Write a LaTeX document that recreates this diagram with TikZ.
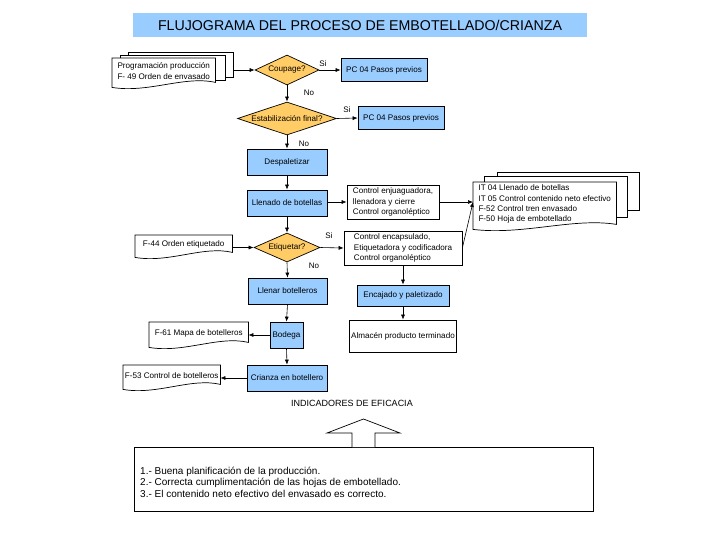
\documentclass[tikz,border=0pt]{standalone}
\usepackage{fontspec}
\setmainfont{Liberation Sans}
\usetikzlibrary{shapes.geometric,arrows.meta,calc,backgrounds}
\definecolor{boxblue}{RGB}{153,204,255}
\definecolor{dorange}{RGB}{255,204,102}
\definecolor{titleblue}{RGB}{153,204,255}
\tikzset{
 every node/.style={font=\fontsize{8.1}{10.3}\selectfont, inner sep=0pt},
 bluebox/.style={draw, fill=boxblue, line width=0.7pt, align=center},
 whitebox/.style={draw, fill=white, line width=0.7pt, align=left},
 decision/.style={diamond, draw, fill=dorange, line width=0.7pt},
 docbody/.style={align=left},
 arr/.style={-{Latex[length=5pt,width=4pt]}, line width=0.6pt},
 lbl/.style={font=\fontsize{8}{9}\selectfont},
 docline/.style={draw, fill=white, line width=0.7pt}
}
\newcommand\docpath[1]{%
  \path[docline] (#1.north west) -- (#1.north east) -- ($(#1.south east)+(0,-2)$)
   .. controls ($(#1.south east)!0.3!(#1.south west)+(0,-9)$) and ($(#1.south east)!0.65!(#1.south west)+(0,9)$) .. ($(#1.south west)+(0,3)$) -- cycle;}
\begin{document}
\begin{tikzpicture}[x=1pt,y=-1pt]
\useasboundingbox (0,0) rectangle (728,546);
% title
\node[fill=titleblue, minimum width=454, minimum height=24, font=\fontsize{14.2}{17}\selectfont] (title) at (360,25) {FLUJOGRAMA DEL PROCESO DE EMBOTELLADO/CRIANZA};
% document stacks
\node[minimum width=105, minimum height=25, anchor=north west] (progB) at (128,52) {};
\node[minimum width=105, minimum height=25, anchor=north west] (progM) at (120,55) {};
\node[docbody, anchor=north west, minimum width=103, minimum height=26] (prog) at (112,58) {Programación producción\\F- 49 Orden de envasado};
\node[minimum width=142, minimum height=38, anchor=north west] (itB) at (497,172) {};
\node[minimum width=143, minimum height=41, anchor=north west] (itM) at (484,176) {};
\node[docbody, anchor=north west, minimum width=143, minimum height=44] (itF) at (473,182) {IT 04 Llenado de botellas\\IT 05 Control contenido neto efectivo\\F-52 Control tren envasado\\F-50 Hoja de embotellado};
\node[docbody, align=center, anchor=north west, minimum width=97, minimum height=19] (f44) at (135,235) {F-44 Orden etiquetado};
\node[docbody, align=center, anchor=north west, minimum width=99, minimum height=22] (f61) at (149,322) {F-61 Mapa de botelleros};
\node[docbody, align=center, anchor=north west, minimum width=97, minimum height=21] (f53) at (123,365) {F-53 Control de botelleros};
% main column
\node[decision, aspect=2.2, minimum width=64, minimum height=30] (coup) at (287,70) {Coupage?};
\node[bluebox, minimum width=86, minimum height=23] (pc1) at (384,70) {PC 04 Pasos previos};
\node[decision, aspect=3, minimum width=99, minimum height=33] (estab) at (287,118.5) {Estabilización final?};
\node[bluebox, minimum width=86, minimum height=23] (pc2) at (401,118) {PC 04 Pasos previos};
\node[bluebox, minimum width=80, minimum height=26] (desp) at (287,162) {Despaletizar};
\node[bluebox, minimum width=80, minimum height=26] (llen) at (287,203) {Llenado de botellas};
\node[whitebox, minimum width=92, minimum height=34] (c1) at (393,202) {Control enjuaguadora,\\llenadora y cierre\\Control organoléptico};
\node[decision, aspect=2.3, minimum width=66, minimum height=29] (etiq) at (287,247.5) {Etiquetar?};
\node[whitebox, minimum width=118, minimum height=34] (enc) at (403,248) {Control encapsulado,\\Etiquetadora y codificadora\\Control organoléptico};
\node[bluebox, minimum width=79, minimum height=26] (llb) at (287.5,291) {Llenar botelleros};
\node[bluebox, minimum width=92, minimum height=21] (encaj) at (403,295.5) {Encajado y paletizado};
\node[whitebox, align=center, minimum width=107, minimum height=32] (alm) at (403,336) {Almacén producto terminado};
\node[bluebox, minimum width=33, minimum height=26] (bod) at (286.5,335) {Bodega};
\node[bluebox, minimum width=80, minimum height=26] (cri) at (287,378) {Crianza en botellero};
% labels
\node[lbl] (si1) at (323,64) {Si};
\node[lbl] (no1) at (309,93) {No};
\node[lbl] (si2) at (347,110) {Si};
\node[lbl] (no2) at (304,144) {No};
\node[lbl] (si3) at (329,236) {Si};
\node[lbl] (no3) at (314,266) {No};
% connectors
\draw[arr] (progB.east |- coup.west) -- (coup.west);
\draw[arr] (coup.east) -- (pc1.west);
\draw[arr] (coup.south) -- (estab.north);
\draw[arr] (estab.east) -- (pc2.west);
\draw[arr] (estab.south) -- (desp.north);
\draw[arr] (desp.south) -- (llen.north);
\draw[arr] (llen.east) -- (c1.west -| llen.east) -- (c1.west);
\draw[arr] (c1.east) -- (c1.east -| itF.west);
\draw[arr] (enc.east) -- (c1.east -| itF.west);
\draw[arr] (llen.south) -- (etiq.north);
\draw[arr] (f44.east |- etiq.west) -- (etiq.west);
\draw[arr] (etiq.east) -- (enc.west);
\draw[arr] (etiq.south) -- (llb.north);
\draw[arr] (enc.south) -- (encaj.north);
\draw[arr] (encaj.south) -- (alm.north);
\draw[arr] (llb.south) -- (bod.north);
\draw[arr] (bod.west) -- (bod.west -| f61.east);
\draw[arr] (bod.south) -- (cri.north);
\draw[arr] (cri.west) -- (cri.west -| f53.east);
% indicators
\node[font=\fontsize{9}{11}\selectfont] (indlbl) at (352,403) {INDICADORES DE EFICACIA};
\node[draw, line width=0.7pt, minimum width=459, minimum height=64, anchor=north west] (indbox) at (134,447) {};
\draw[line width=0.7pt, fill=white] (352,447) -- (352,433) -- (327,433) -- (363.5,419) -- (400,433) -- (375,433) -- (375,447);
\node[anchor=west, align=left, font=\fontsize{10}{11.5}\selectfont] (indtxt) at (140,482) {1.- Buena planificación de la producción.\\2.- Correcta cumplimentación de las hojas de embotellado.\\3.- El contenido neto efectivo del envasado es correcto.};
% document outlines
\begin{pgfonlayer}{background}
\path[docline] (progB.north west) rectangle (progB.south east);
\path[docline] (progM.north west) rectangle (progM.south east);
\docpath{prog}
\path[docline] (itB.north west) rectangle (itB.south east);
\path[docline] (itM.north west) rectangle (itM.south east);
\docpath{itF}
\docpath{f44}
\docpath{f61}
\docpath{f53}
\end{pgfonlayer}
\end{tikzpicture}
\end{document}
